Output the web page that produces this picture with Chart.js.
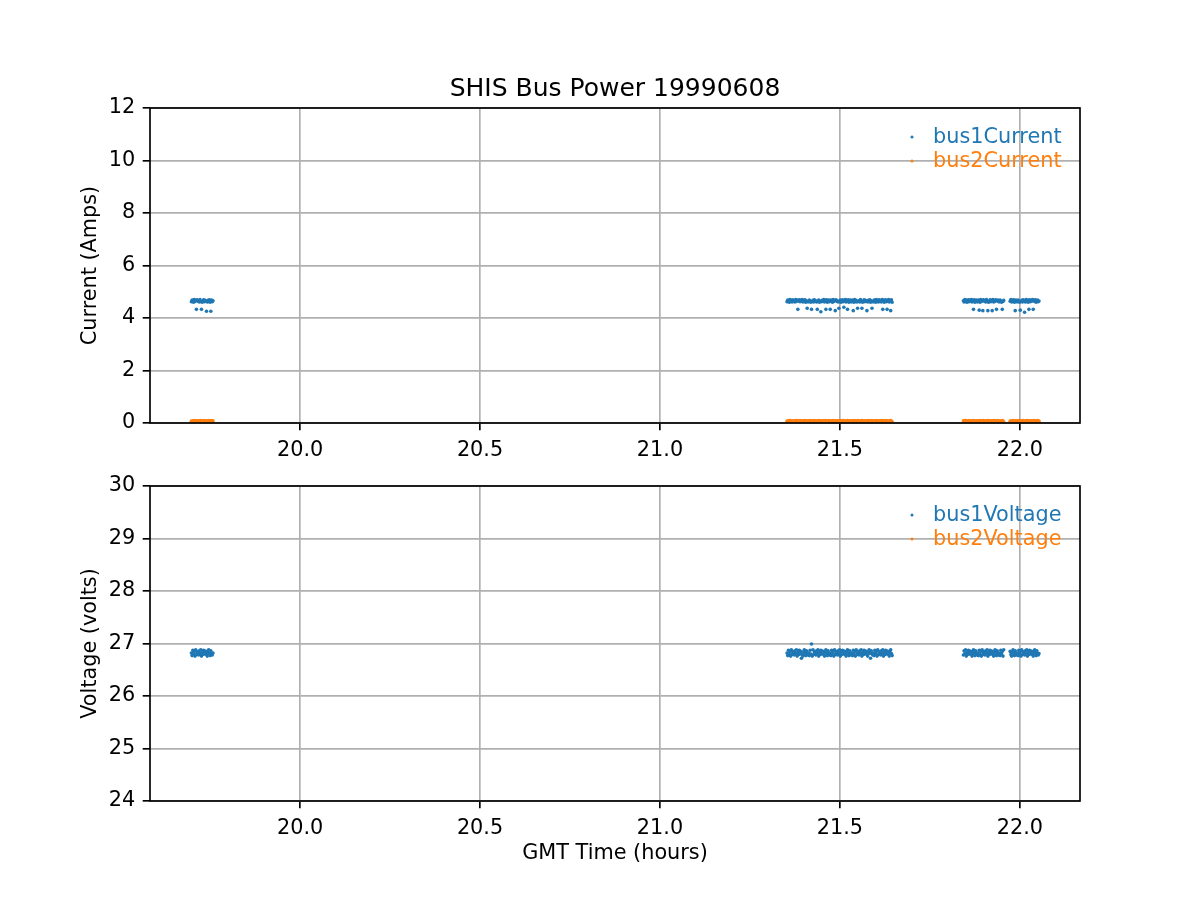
<!DOCTYPE html>
<html>
<head>
<meta charset="utf-8">
<title>SHIS Bus Power 19990608</title>
<script src="https://cdn.jsdelivr.net/npm/chart.js@4.4.0/dist/chart.umd.min.js"></script>
<style>
  body { margin: 0; background: #fff; }
  #wrap { position: relative; width: 1200px; height: 900px; }
  canvas { position: absolute; left: 0; }
  #currentChart { top: 0; }
  #voltageChart { top: 450px; }
</style>
</head>
<body>
<div id="wrap">
  <canvas id="currentChart" width="1200" height="470"></canvas>
  <canvas id="voltageChart" width="1200" height="450"></canvas>
</div>
<script>
// GMT time of each sample (hours), four recording stretches
const gmtHours = [
  // 19.70 - 19.76
  19.698,19.700,19.702,19.704,19.706,19.708,19.710,19.712,19.714,19.716,
  19.718,19.720,19.722,19.724,19.726,19.728,19.730,19.732,19.734,19.736,
  19.738,19.740,19.742,19.744,19.746,19.748,19.750,19.752,19.754,19.756,19.758,
  // 21.35 - 21.65
  21.353,21.355,21.357,21.359,21.361,21.363,21.365,21.367,21.369,21.371,
  21.373,21.375,21.377,21.379,21.381,21.383,21.385,21.387,21.389,21.391,
  21.393,21.395,21.397,21.399,21.401,21.403,21.405,21.407,21.409,21.411,
  21.413,21.415,21.417,21.419,21.421,21.423,21.425,21.427,21.429,21.431,
  21.433,21.435,21.437,21.439,21.441,21.443,21.445,21.447,21.449,21.451,
  21.453,21.455,21.457,21.459,21.461,21.463,21.465,21.467,21.469,21.471,
  21.473,21.475,21.477,21.479,21.481,21.483,21.485,21.487,21.489,21.491,
  21.493,21.495,21.497,21.499,21.501,21.503,21.505,21.507,21.509,21.511,
  21.513,21.515,21.517,21.519,21.521,21.523,21.525,21.527,21.529,21.531,
  21.533,21.535,21.537,21.539,21.541,21.543,21.545,21.547,21.549,21.551,
  21.553,21.555,21.557,21.559,21.561,21.563,21.565,21.567,21.569,21.571,
  21.573,21.575,21.577,21.579,21.581,21.583,21.585,21.587,21.589,21.591,
  21.593,21.595,21.597,21.599,21.601,21.603,21.605,21.607,21.609,21.611,
  21.613,21.615,21.617,21.619,21.621,21.623,21.625,21.627,21.629,21.631,
  21.633,21.635,21.637,21.639,21.641,21.643,21.645,
  // 21.84 - 21.96
  21.843,21.845,21.847,21.849,21.851,21.853,21.855,21.857,21.859,21.861,
  21.863,21.865,21.867,21.869,21.871,21.873,21.875,21.877,21.879,21.881,
  21.883,21.885,21.887,21.889,21.891,21.893,21.895,21.897,21.899,21.901,
  21.903,21.905,21.907,21.909,21.911,21.913,21.915,21.917,21.919,21.921,
  21.923,21.925,21.927,21.929,21.931,21.933,21.935,21.937,21.939,21.941,
  21.943,21.945,21.947,21.949,21.951,21.953,21.955,
  // 21.97 - 22.06
  21.973,21.975,21.977,21.979,21.981,21.983,21.985,21.987,21.989,21.991,
  21.993,21.995,21.997,21.999,22.001,22.003,22.005,22.007,22.009,22.011,
  22.013,22.015,22.017,22.019,22.021,22.023,22.025,22.027,22.029,22.031,
  22.033,22.035,22.037,22.039,22.041,22.043,22.045,22.047,22.049,22.051,
  22.053
];

const bus1Current = [
  4.62,4.68,4.65,4.60,4.70,4.63,4.67,4.33,4.69,4.64,
  4.66,4.61,4.70,4.63,4.33,4.60,4.65,4.69,4.62,4.67,
  4.64,4.26,4.61,4.67,4.63,4.69,4.60,4.26,4.68,4.62,4.66,

  4.62,4.68,4.65,4.60,4.70,4.63,4.67,4.61,4.69,4.64,
  4.66,4.61,4.70,4.63,4.68,4.33,4.65,4.69,4.62,4.67,
  4.64,4.70,4.61,4.67,4.63,4.69,4.60,4.66,4.37,4.62,
  4.62,4.68,4.65,4.60,4.33,4.63,4.67,4.61,4.69,4.64,
  4.66,4.61,4.33,4.63,4.68,4.60,4.65,4.24,4.62,4.67,
  4.64,4.70,4.61,4.67,4.33,4.69,4.60,4.66,4.68,4.62,
  4.33,4.68,4.65,4.60,4.70,4.63,4.67,4.28,4.69,4.64,
  4.66,4.61,4.37,4.63,4.68,4.60,4.65,4.69,4.62,4.41,
  4.64,4.70,4.61,4.67,4.33,4.69,4.60,4.66,4.68,4.62,
  4.62,4.68,4.28,4.60,4.70,4.63,4.67,4.61,4.37,4.64,
  4.66,4.61,4.70,4.63,4.37,4.60,4.65,4.69,4.62,4.67,
  4.64,4.28,4.61,4.67,4.63,4.69,4.60,4.66,4.37,4.62,
  4.62,4.68,4.65,4.60,4.70,4.63,4.67,4.61,4.69,4.64,
  4.66,4.61,4.70,4.33,4.68,4.60,4.65,4.69,4.62,4.33,
  4.64,4.70,4.61,4.67,4.28,4.69,4.60,

  4.66,4.61,4.70,4.63,4.68,4.60,4.65,4.69,4.62,4.67,
  4.64,4.70,4.61,4.67,4.33,4.69,4.60,4.66,4.68,4.62,
  4.62,4.68,4.30,4.60,4.70,4.63,4.67,4.28,4.69,4.64,
  4.66,4.61,4.70,4.63,4.28,4.60,4.65,4.69,4.62,4.67,
  4.28,4.70,4.61,4.67,4.63,4.69,4.33,4.66,4.68,4.62,
  4.62,4.68,4.65,4.60,4.33,4.63,4.67,

  4.64,4.70,4.61,4.67,4.63,4.69,4.60,4.28,4.68,4.62,
  4.62,4.68,4.65,4.60,4.30,4.63,4.67,4.61,4.69,4.64,
  4.22,4.61,4.70,4.63,4.68,4.60,4.33,4.69,4.62,4.67,
  4.64,4.70,4.33,4.67,4.63,4.69,4.60,4.66,4.68,4.62,
  4.65
];

const bus2Current = [
  0.07,0.05,0.08,0.06,0.09,0.07,0.05,0.08,0.06,0.07,
  0.08,0.06,0.07,0.09,0.05,0.08,0.06,0.07,0.09,0.06,
  0.07,0.05,0.08,0.06,0.09,0.07,0.05,0.08,0.06,0.07,0.08,

  0.07,0.05,0.08,0.06,0.09,0.07,0.05,0.08,0.06,0.07,
  0.08,0.06,0.07,0.09,0.05,0.08,0.06,0.07,0.09,0.06,
  0.07,0.05,0.08,0.06,0.09,0.07,0.05,0.08,0.06,0.07,
  0.08,0.06,0.07,0.09,0.05,0.08,0.06,0.07,0.09,0.06,
  0.07,0.05,0.08,0.06,0.09,0.07,0.05,0.08,0.06,0.07,
  0.08,0.06,0.07,0.09,0.05,0.08,0.06,0.07,0.09,0.06,
  0.07,0.05,0.08,0.06,0.09,0.07,0.05,0.08,0.06,0.07,
  0.08,0.06,0.07,0.09,0.05,0.08,0.06,0.07,0.09,0.06,
  0.07,0.05,0.08,0.06,0.09,0.07,0.05,0.08,0.06,0.07,
  0.08,0.06,0.07,0.09,0.05,0.08,0.06,0.07,0.09,0.06,
  0.07,0.05,0.08,0.06,0.09,0.07,0.05,0.08,0.06,0.07,
  0.08,0.06,0.07,0.09,0.05,0.08,0.06,0.07,0.09,0.06,
  0.07,0.05,0.08,0.06,0.09,0.07,0.05,0.08,0.06,0.07,
  0.08,0.06,0.07,0.09,0.05,0.08,0.06,0.07,0.09,0.06,
  0.07,0.05,0.08,0.06,0.09,0.07,0.05,

  0.08,0.06,0.07,0.09,0.05,0.08,0.06,0.07,0.09,0.06,
  0.07,0.05,0.08,0.06,0.09,0.07,0.05,0.08,0.06,0.07,
  0.08,0.06,0.07,0.09,0.05,0.08,0.06,0.07,0.09,0.06,
  0.07,0.05,0.08,0.06,0.09,0.07,0.05,0.08,0.06,0.07,
  0.08,0.06,0.07,0.09,0.05,0.08,0.06,0.07,0.09,0.06,
  0.07,0.05,0.08,0.06,0.09,0.07,0.05,

  0.07,0.05,0.08,0.06,0.09,0.07,0.05,0.08,0.06,0.07,
  0.08,0.06,0.07,0.09,0.05,0.08,0.06,0.07,0.09,0.06,
  0.07,0.05,0.08,0.06,0.09,0.07,0.05,0.08,0.06,0.07,
  0.08,0.06,0.07,0.09,0.05,0.08,0.06,0.07,0.09,0.06,
  0.07
];

const bus1Voltage = [
  26.82,26.77,26.87,26.80,26.85,26.76,26.88,26.79,26.84,26.81,
  26.78,26.86,26.81,26.88,26.76,26.83,26.79,26.87,26.80,26.85,
  26.85,26.79,26.76,26.84,26.88,26.81,26.77,26.86,26.82,26.78,26.82,

  26.82,26.77,26.87,26.80,26.85,26.76,26.88,26.79,26.84,26.81,
  26.78,26.86,26.81,26.88,26.76,26.83,26.79,26.87,26.80,26.85,
  26.72,26.79,26.76,26.84,26.88,26.81,26.77,26.86,26.82,26.78,
  26.82,26.77,26.87,26.80,26.99,26.76,26.88,26.79,26.84,26.81,
  26.78,26.86,26.81,26.88,26.76,26.83,26.79,26.87,26.80,26.85,
  26.85,26.79,26.76,26.84,26.88,26.81,26.77,26.86,26.82,26.78,
  26.82,26.77,26.87,26.80,26.85,26.76,26.88,26.79,26.84,26.81,
  26.78,26.86,26.81,26.88,26.76,26.83,26.79,26.87,26.80,26.85,
  26.85,26.79,26.76,26.84,26.88,26.81,26.77,26.86,26.82,26.78,
  26.82,26.77,26.87,26.80,26.85,26.76,26.88,26.79,26.84,26.81,
  26.78,26.86,26.81,26.88,26.76,26.83,26.79,26.87,26.80,26.85,
  26.85,26.79,26.76,26.84,26.88,26.81,26.72,26.86,26.82,26.78,
  26.82,26.77,26.87,26.80,26.85,26.76,26.88,26.79,26.84,26.81,
  26.78,26.86,26.81,26.88,26.76,26.83,26.79,26.87,26.80,26.85,
  26.85,26.79,26.76,26.84,26.88,26.81,26.77,

  26.78,26.86,26.81,26.88,26.76,26.83,26.79,26.87,26.80,26.85,
  26.85,26.79,26.76,26.84,26.88,26.81,26.77,26.86,26.82,26.78,
  26.82,26.77,26.87,26.80,26.85,26.76,26.88,26.79,26.84,26.81,
  26.78,26.86,26.81,26.88,26.76,26.83,26.79,26.87,26.80,26.85,
  26.85,26.79,26.76,26.84,26.88,26.81,26.77,26.86,26.82,26.78,
  26.82,26.77,26.87,26.80,26.85,26.76,26.88,

  26.85,26.79,26.76,26.84,26.88,26.81,26.77,26.86,26.82,26.78,
  26.82,26.77,26.87,26.80,26.85,26.76,26.88,26.79,26.84,26.81,
  26.78,26.86,26.81,26.88,26.76,26.83,26.79,26.87,26.80,26.85,
  26.85,26.79,26.76,26.84,26.88,26.81,26.77,26.86,26.82,26.78,
  26.81
];

// bus 2 voltage reads zero all flight, below the plotted range
const bus2Voltage = [
  0,0,0,0,0,0,0,0,0,0, 0,0,0,0,0,0,0,0,0,0, 0,0,0,0,0,0,0,0,0,0, 0,
  0,0,0,0,0,0,0,0,0,0, 0,0,0,0,0,0,0,0,0,0, 0,0,0,0,0,0,0,0,0,0,
  0,0,0,0,0,0,0,0,0,0, 0,0,0,0,0,0,0,0,0,0, 0,0,0,0,0,0,0,0,0,0,
  0,0,0,0,0,0,0,0,0,0, 0,0,0,0,0,0,0,0,0,0, 0,0,0,0,0,0,0,0,0,0,
  0,0,0,0,0,0,0,0,0,0, 0,0,0,0,0,0,0,0,0,0, 0,0,0,0,0,0,0,0,0,0,
  0,0,0,0,0,0,0,0,0,0, 0,0,0,0,0,0,0,0,0,0, 0,0,0,0,0,0,0,
  0,0,0,0,0,0,0,0,0,0, 0,0,0,0,0,0,0,0,0,0, 0,0,0,0,0,0,0,0,0,0,
  0,0,0,0,0,0,0,0,0,0, 0,0,0,0,0,0,0,0,0,0, 0,0,0,0,0,0,0,
  0,0,0,0,0,0,0,0,0,0, 0,0,0,0,0,0,0,0,0,0, 0,0,0,0,0,0,0,0,0,0,
  0,0,0,0,0,0,0,0,0,0, 0
];

const timeTicks = [20.0, 20.5, 21.0, 21.5, 22.0];
const currentTicks = [0, 2, 4, 6, 8, 10, 12];
const voltageTicks = [24, 25, 26, 27, 28, 29, 30];

const BLUE = '#1f77b4';
const ORANGE = '#ff7f0e';
const FONT = 'DejaVu Sans';
const LW = 1.67; // 0.8pt at 150 dpi

Chart.defaults.font.family = FONT;
Chart.defaults.color = '#000';

function points(values) {
    return gmtHours.map((t, i) => ({ x: t, y: values[i] }));
}

// box spines + frameless legend, matplotlib style
const framePlugin = {
    id: 'frame',
    afterDatasetsDraw(chart) {
        const { ctx, chartArea: a } = chart;
        ctx.save();
        ctx.strokeStyle = '#000';
        ctx.lineWidth = LW;
        ctx.strokeRect(a.left, a.top, a.right - a.left, a.bottom - a.top);

        ctx.font = '20.8px "DejaVu Sans"';
        ctx.textBaseline = 'middle';
        ctx.textAlign = 'left';
        chart.data.datasets.forEach((ds, i) => {
            const y = a.top + 30 + 24 * i;
            ctx.fillStyle = ds.backgroundColor;
            ctx.beginPath();
            ctx.arc(a.right - 168, y - 1, 1.5, 0, Math.PI * 2);
            ctx.fill();
            ctx.fillText(ds.label, a.right - 147, y);
        });
        ctx.restore();
    }
};

function gridOpts() {
    return { color: '#b0b0b0', lineWidth: LW, tickColor: '#000', tickWidth: LW, tickLength: 7.3 };
}

function makeChart(id, cfg) {
    return new Chart(document.getElementById(id), {
        type: 'scatter',
        data: {
            datasets: [
                { label: cfg.labels[0], data: points(cfg.series[0]), backgroundColor: BLUE, pointBackgroundColor: BLUE },
                { label: cfg.labels[1], data: points(cfg.series[1]), backgroundColor: ORANGE, pointBackgroundColor: ORANGE }
            ]
        },
        options: {
            responsive: false,
            animation: false,
            events: [],
            layout: { padding: { top: cfg.padTop, right: 120, left: 0, bottom: 0 } },
            elements: { point: { radius: 1.8, borderWidth: 0, hoverRadius: 1.8 } },
            plugins: {
                legend: { display: false },
                tooltip: { enabled: false },
                title: cfg.title
            },
            scales: {
                x: {
                    type: 'linear',
                    min: 19.583,
                    max: 22.167,
                    afterBuildTicks: s => { s.ticks = timeTicks.map(v => ({ value: v })); },
                    afterFit: s => { s.height = cfg.xHeight; },
                    grid: gridOpts(),
                    border: { display: false },
                    ticks: {
                        font: { size: 20.8 }, color: '#000', padding: 8,
                        autoSkip: false, maxRotation: 0,
                        callback: v => Number(v).toFixed(1)
                    },
                    title: cfg.xTitle
                },
                y: {
                    type: 'linear',
                    min: cfg.yTicks[0],
                    max: cfg.yTicks[cfg.yTicks.length - 1],
                    afterBuildTicks: s => { s.ticks = cfg.yTicks.map(v => ({ value: v })); },
                    afterFit: s => { s.width = 150; },
                    grid: gridOpts(),
                    border: { display: false },
                    ticks: { font: { size: 20.8 }, color: '#000', padding: 7.5, autoSkip: false },
                    title: {
                        display: true, text: cfg.yLabel, color: '#000',
                        font: { size: 20.8 }, padding: { top: 78, bottom: 0 }
                    }
                }
            }
        },
        plugins: [framePlugin]
    });
}

makeChart('currentChart', {
    labels: ['bus1Current', 'bus2Current'],
    series: [bus1Current, bus2Current],
    yTicks: currentTicks,
    yLabel: 'Current (Amps)',
    padTop: 0,
    xHeight: 47,
    xTitle: { display: false },
    title: {
        display: true, text: 'SHIS Bus Power 19990608', fullSize: false, color: '#000',
        font: { size: 25, weight: 'normal' }, padding: { top: 74, bottom: 4 }
    }
});

makeChart('voltageChart', {
    labels: ['bus1Voltage', 'bus2Voltage'],
    series: [bus1Voltage, bus2Voltage],
    yTicks: voltageTicks,
    yLabel: 'Voltage (volts)',
    padTop: 36,
    xHeight: 99,
    xTitle: {
        display: true, text: 'GMT Time (hours)', color: '#000',
        font: { size: 20.8 }, padding: { top: 0, bottom: 33.5 }
    },
    title: { display: false }
});
</script>
</body>
</html>
